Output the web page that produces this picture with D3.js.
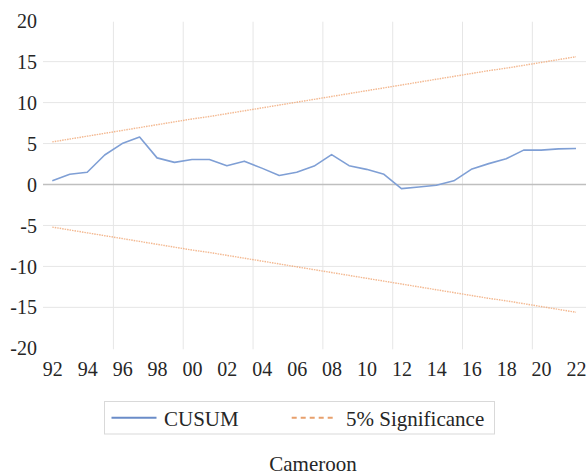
<!DOCTYPE html>
<html lang="en">
<head>
    <meta charset="UTF-8">
    <title>CUSUM - Cameroon</title>
    <script src="https://d3js.org/d3.v7.min.js"></script>
    <style>
        body { margin: 0; background: #fff; }
        .grid line { stroke: #e6e6e6; stroke-width: 1; }
        .axis .domain, .axis line { display: none; }
    </style>
</head>
<body>
<svg id="chart" width="587" height="476"></svg>

<script>
    // Данные
    const years = d3.range(1992, 2023);
    const cusum = [0.45, 1.25, 1.5, 3.6, 5.0, 5.8, 3.25, 2.7, 3.05, 3.05,
                   2.3, 2.85, 2.0, 1.1, 1.5, 2.25, 3.65, 2.3, 1.85, 1.25,
                   -0.5, -0.3, -0.1, 0.45, 1.85, 2.55, 3.15, 4.2, 4.2, 4.35, 4.4];
    const upper = [5.2, 5.55, 5.9, 6.25, 6.6, 6.95, 7.3, 7.65, 8.0, 8.3,
                   8.65, 9.0, 9.35, 9.7, 10.05, 10.4, 10.75, 11.1, 11.45, 11.8,
                   12.15, 12.5, 12.85, 13.2, 13.55, 13.9, 14.2, 14.55, 14.9, 15.25, 15.6];
    const lower = upper.map(v => -v);
    const yTicks = [-20, -15, -10, -5, 0, 5, 10, 15, 20];
    const xLabels = d3.range(1992, 2023, 2);
    const xGrid = [1995.5, 1999.5, 2003.5, 2007.5, 2011.5, 2015.5, 2019.5];

    const FONT = "'Liberation Serif', Tinos, 'DejaVu Serif', serif";
    const svg = d3.select("#chart");
    const plotL = 43, plotR = 586, plotT = 20.7, plotB = 348.3;

    const x = d3.scaleLinear().domain([1992, 2022]).range([52.3, 576]);
    const y = d3.scaleLinear().domain([-20, 20]).range([plotB, plotT]);

    // Сетка
    const grid = svg.append("g").attr("class", "grid");
    grid.selectAll(".h")
        .data(yTicks.filter(t => t !== 20 && t !== -20 && t !== 0))
        .join("line")
        .attr("x1", plotL).attr("x2", plotR)
        .attr("y1", d => y(d)).attr("y2", d => y(d));
    grid.selectAll(".v")
        .data(xGrid)
        .join("line")
        .attr("x1", d => x(d)).attr("x2", d => x(d))
        .attr("y1", plotT + 1).attr("y2", plotB + 1);

    // Нулевая линия
    svg.append("line")
        .attr("x1", plotL).attr("x2", plotR)
        .attr("y1", y(0)).attr("y2", y(0))
        .attr("stroke", "#bfbfbf").attr("stroke-width", 1.5);

    // Оси (шрифт задаётся после call, иначе d3 его перезапишет)
    svg.append("g")
        .attr("class", "axis")
        .attr("transform", `translate(${plotL - 6},0)`)
        .call(d3.axisLeft(y).tickValues(yTicks).tickSize(0).tickPadding(0)
            .tickFormat(d => String(d)))
        .attr("font-family", FONT).attr("font-size", 20)
        .selectAll("text").attr("dy", "0.33em").attr("fill", "#262626");

    svg.append("g")
        .attr("class", "axis")
        .attr("transform", `translate(0,${plotB + 1})`)
        .call(d3.axisBottom(x).tickValues(xLabels).tickSize(0).tickPadding(0)
            .tickFormat(d => String(d).slice(2)))
        .attr("font-family", FONT).attr("font-size", 20)
        .selectAll("text").attr("dy", 0).attr("y", 27).attr("fill", "#262626");

    // Линии
    const line = d3.line().x((d, i) => x(years[i])).y(d => y(d));

    [upper, lower].forEach(s => {
        svg.append("path")
            .datum(s)
            .attr("d", line)
            .attr("fill", "none")
            .attr("stroke", "#f0a674")
            .attr("stroke-opacity", 0.8)
            .attr("stroke-width", 1.4)
            .attr("stroke-dasharray", "1.5 1");
    });

    svg.append("path")
        .datum(cusum)
        .attr("d", line)
        .attr("fill", "none")
        .attr("stroke", "#7f9fd5")
        .attr("stroke-width", 1.6)
        .attr("stroke-linejoin", "round");

    // Легенда
    const lg = svg.append("g")
        .attr("font-family", FONT).attr("font-size", 21).attr("fill", "#262626");
    lg.append("rect")
        .attr("x", 104.5).attr("y", 401.5)
        .attr("width", 390).attr("height", 32.5)
        .attr("fill", "#fff").attr("stroke", "#d9d9d9");
    lg.append("line")
        .attr("x1", 111.5).attr("x2", 156.5).attr("y1", 417.7).attr("y2", 417.7)
        .attr("stroke", "#6a8cc8").attr("stroke-width", 2);
    lg.append("text").attr("x", 164).attr("y", 425.5).text("CUSUM");
    lg.append("line")
        .attr("x1", 291.7).attr("x2", 336.7).attr("y1", 417.7).attr("y2", 417.7)
        .attr("stroke", "#e8a06c").attr("stroke-width", 2)
        .attr("stroke-dasharray", "5 4");
    lg.append("text").attr("x", 346).attr("y", 425.5).text("5% Significance");

    // Заголовок
    svg.append("text")
        .attr("x", 313).attr("y", 471)
        .attr("text-anchor", "middle")
        .attr("font-family", FONT).attr("font-size", 21).attr("fill", "#262626")
        .text("Cameroon");
</script>
</body>
</html>
